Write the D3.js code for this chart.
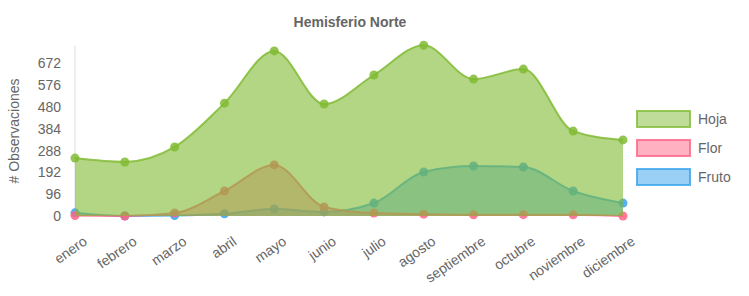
<!DOCTYPE html>
<html>
<head>
<meta charset="utf-8">
<script src="https://cdn.jsdelivr.net/npm/d3@7"></script>
<style>
  body { margin: 0; background: #fff; }
  svg { display: block; font-family: "Liberation Sans", Arial, sans-serif; }
</style>
</head>
<body>
<div id="viz-container"></div>
<script>
// data
const meses = ["enero", "febrero", "marzo", "abril", "mayo", "junio", "julio",
  "agosto", "septiembre", "octubre", "noviembre", "diciembre"];
const hoja = [255, 238, 304, 497, 727, 493, 621, 752, 603, 647, 374, 335];
const flor = [2, 0, 13, 110, 225, 40, 13, 8, 5, 6, 5, 0];
const fruto = [14, 0, 2, 10, 31, 18, 57, 194, 220, 216, 110, 57];
const yTicks = [0, 96, 192, 288, 384, 480, 576, 672];

// drawn back to front: Hoja ends up on top
const series = [
  { name: "Fruto", values: fruto, color: "rgb(54,162,235)", alpha: 0.5 },
  { name: "Flor", values: flor, color: "rgb(255,99,132)", alpha: 0.5 },
  { name: "Hoja", values: hoja, color: "rgb(128,187,51)", alpha: 0.6 }
];
const legendOrder = ["Hoja", "Flor", "Fruto"];

const width = 749, height = 296;
const svg = d3.select("#viz-container").append("svg")
  .attr("width", width).attr("height", height);

const x = d3.scalePoint().domain(meses).range([75, 623]);
const y = d3.scaleLinear().domain([0, 750]).range([216, 45.7]);

// title
svg.append("text").attr("x", 350).attr("y", 27)
  .attr("text-anchor", "middle").attr("font-size", 14).attr("font-weight", "bold")
  .attr("fill", "#666").text("Hemisferio Norte");

// y axis title
svg.append("text").attr("transform", "translate(19,131) rotate(-90)")
  .attr("text-anchor", "middle").attr("font-size", 14).attr("fill", "#666")
  .text("# Observaciones");

// axis line
svg.append("line").attr("x1", 75).attr("x2", 75).attr("y1", y.range()[1]).attr("y2", 216)
  .attr("stroke", "#ddd");

// y tick labels
svg.append("g").selectAll("text").data(yTicks).join("text")
  .attr("x", 61).attr("y", d => y(d)).attr("dy", "0.36em")
  .attr("text-anchor", "end").attr("font-size", 14).attr("fill", "#666")
  .text(d => d);

// x tick labels
svg.append("g").selectAll("text").data(meses).join("text")
  .attr("transform", d => `translate(${x(d) + 7},${235}) rotate(-35)`)
  .attr("text-anchor", "end").attr("dy", "0.75em")
  .attr("font-size", 14).attr("fill", "#666")
  .text(d => d);

const area = d3.area().x((d, i) => x(meses[i])).y0(y(0)).y1(d => y(d))
  .curve(d3.curveMonotoneX);
const line = d3.line().x((d, i) => x(meses[i])).y(d => y(d))
  .curve(d3.curveMonotoneX);

series.forEach(s => {
  const g = svg.append("g");
  g.append("path").attr("d", area(s.values)).attr("fill", s.color)
    .attr("fill-opacity", s.alpha);
  g.append("path").attr("d", line(s.values)).attr("fill", "none")
    .attr("stroke", s.color).attr("stroke-opacity", 0.85).attr("stroke-width", 2);
  g.selectAll("circle").data(s.values).join("circle")
    .attr("cx", (d, i) => x(meses[i])).attr("cy", d => y(d)).attr("r", 4.5)
    .attr("fill", s.color).attr("fill-opacity", 0.85);
});

// legend
const leg = svg.append("g").selectAll("g").data(legendOrder).join("g")
  .attr("transform", (d, i) => `translate(637,${111 + i * 29})`);
leg.append("rect").attr("width", 53).attr("height", 16)
  .attr("fill", d => series.find(s => s.name === d).color)
  .attr("fill-opacity", 0.5)
  .attr("stroke", d => series.find(s => s.name === d).color)
  .attr("stroke-opacity", 0.8).attr("stroke-width", 2);
leg.append("text").attr("x", 61).attr("y", 8).attr("dy", "0.36em")
  .attr("font-size", 14).attr("fill", "#666").text(d => d);
</script>
</body>
</html>
